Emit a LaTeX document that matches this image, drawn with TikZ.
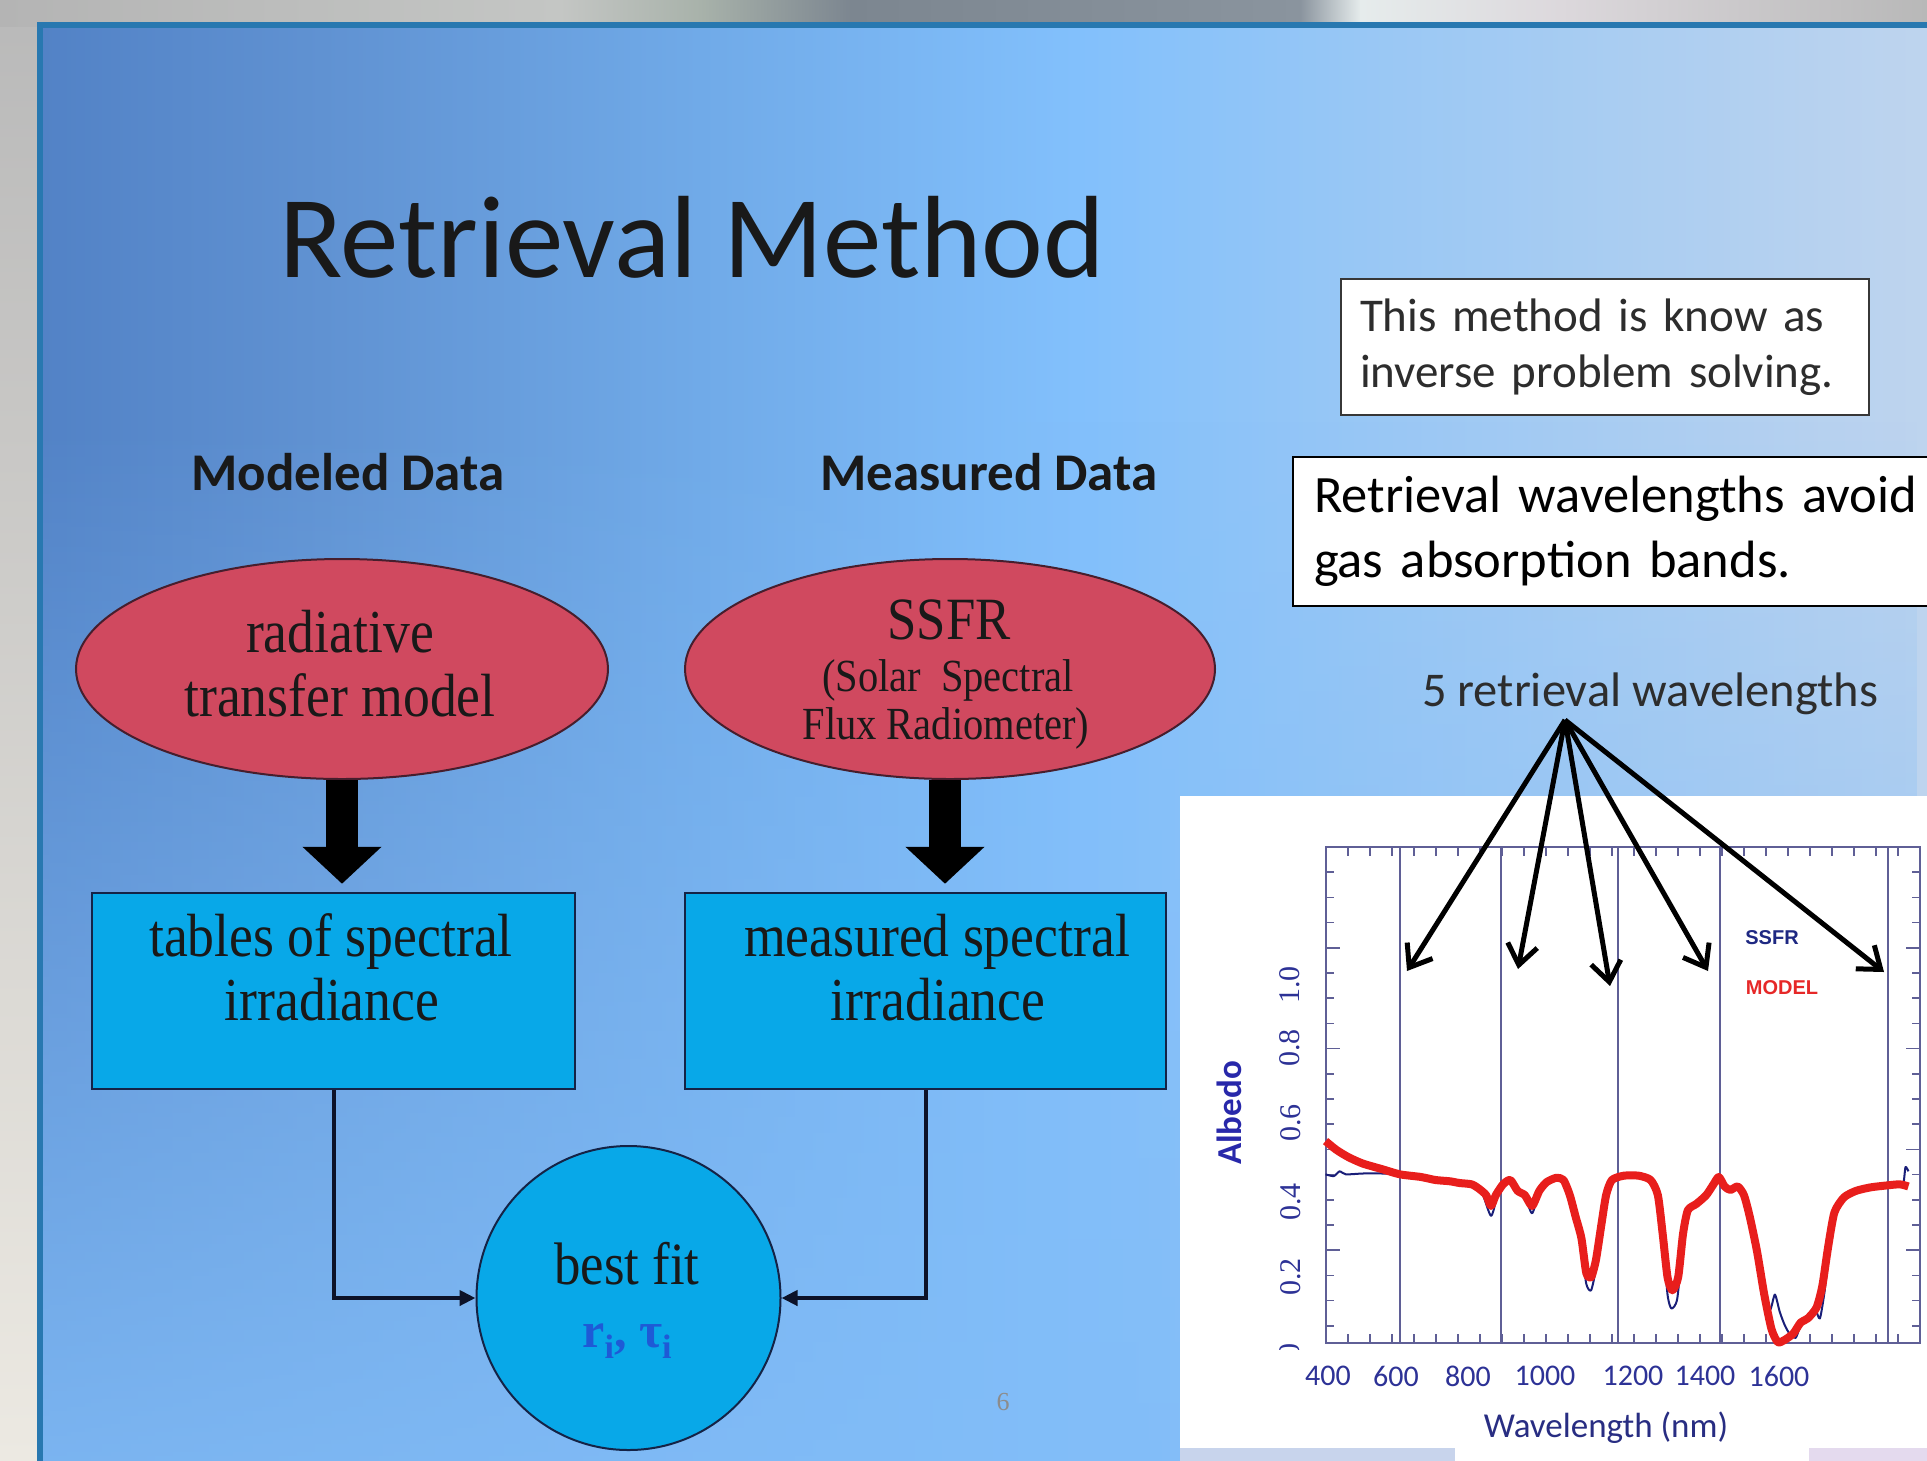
\documentclass[tikz,border=0pt]{standalone}
\usepackage{fontspec}
\setmainfont{Carlito}
\newfontfamily\calt[WordSpace=0.7]{Carlito}
\newfontfamily\condserif[FakeStretch=0.88]{Liberation Serif}
\newfontfamily\tnr{Liberation Serif}
\newfontfamily\arialf{Liberation Sans}
\usetikzlibrary{arrows.meta,shapes.geometric,fadings}
\definecolor{ellred}{RGB}{208,73,95}
\definecolor{ellline}{RGB}{70,30,45}
\definecolor{cyanfill}{RGB}{8,168,232}
\definecolor{navyline}{RGB}{20,35,70}
\definecolor{connline}{RGB}{12,18,40}
\definecolor{framecol}{RGB}{40,120,176}
\definecolor{bg0}{RGB}{82,130,198}
\definecolor{bg1}{RGB}{96,146,210}
\definecolor{bg2}{RGB}{112,170,232}
\definecolor{bg3}{RGB}{130,192,252}
\definecolor{bg4}{RGB}{155,200,244}
\definecolor{bg5}{RGB}{190,212,238}
\definecolor{bglow}{RGB}{130,189,248}
\definecolor{axiscol}{RGB}{95,95,150}
\definecolor{labblue}{RGB}{45,50,150}
\definecolor{curveblue}{RGB}{25,30,120}
\definecolor{curvered}{RGB}{232,30,28}
\definecolor{fitblue}{RGB}{30,90,214}
\definecolor{txtgray}{RGB}{45,45,45}
\definecolor{titlecol}{RGB}{25,25,25}
\definecolor{lstrip1}{RGB}{185,185,185}
\definecolor{lstrip2}{RGB}{236,233,226}
\definecolor{ts1}{RGB}{180,180,180}
\definecolor{ts2}{RGB}{196,198,196}
\definecolor{ts3}{RGB}{168,178,170}
\definecolor{ts4}{RGB}{124,134,144}
\definecolor{ts5}{RGB}{138,148,158}
\definecolor{ts6}{RGB}{230,236,236}
\definecolor{ts7}{RGB}{220,216,220}
\definecolor{ts8}{RGB}{184,184,184}
\definecolor{botleft}{RGB}{200,212,236}
\definecolor{botright}{RGB}{228,218,238}
\definecolor{noteAline}{RGB}{55,55,55}
\definecolor{albcol}{RGB}{40,40,170}
\definecolor{wlcol}{RGB}{40,45,130}
\definecolor{legScol}{RGB}{30,40,130}
\definecolor{legMcol}{RGB}{230,40,40}
\pgfdeclarehorizontalshading{slidebg}{100bp}{color(0bp)=(bg0); color(25bp)=(bg0); color(32.5bp)=(bg1); color(42.5bp)=(bg2); color(52.5bp)=(bg3); color(61bp)=(bg4); color(75bp)=(bg5); color(100bp)=(bg5)}
\begin{document}
\begin{tikzpicture}[x=1pt,y=-1pt,
  ellnode/.style={ellipse, draw=ellline, line width=2pt, fill=ellred, minimum width=532pt, minimum height=220pt, inner sep=0pt},
  boxnode/.style={rectangle, draw=navyline, line width=2.5pt, fill=cyanfill, minimum width=483pt, minimum height=196pt, inner sep=0pt},
  sline/.style={anchor=base, inner sep=0pt, text=black!90, font=\condserif\fontsize{61}{61}\selectfont},
  smallsline/.style={anchor=base, inner sep=0pt, text=black!90, font=\condserif\fontsize{46}{46}\selectfont},
  bigarrow/.style={line width=32pt, black, -{Triangle[length=37pt,width=77pt]}, shorten >=8pt},
  conn/.style={line width=4pt, draw=connline, -{Triangle[length=16pt,width=15pt]}},
  wlarrow/.style={line width=5pt, black, -{Straight Barb[length=20pt,width=30pt]}},
  ytick/.style={rotate=90, inner sep=0pt, text=labblue, font=\tnr\fontsize{30}{30}\selectfont},
  xtick/.style={inner sep=0pt, text=labblue, font=\fontsize{30}{30}\selectfont},
  axl/.style={axiscol, line width=1.6pt}
]
\useasboundingbox (0,0) rectangle (1927,1460);
\clip (0,0) rectangle (1927,1460);
% outside background
\shade[top color=lstrip1, bottom color=lstrip2] (0,0) rectangle (40,1460);
\shade[left color=ts1, right color=ts2] (0,0) rectangle (561,26);
\shade[left color=ts2, right color=ts3] (560,0) rectangle (701,26);
\shade[left color=ts3, right color=ts4] (700,0) rectangle (851,26);
\shade[left color=ts4, right color=ts5] (850,0) rectangle (1301,26);
\shade[left color=ts5, right color=ts6] (1300,0) rectangle (1361,26);
\shade[left color=ts6, right color=ts7] (1360,0) rectangle (1561,26);
\shade[left color=ts7, right color=ts8] (1560,0) rectangle (1927,26);
% slide background
\shade[shading=slidebg] (40,25) rectangle (1927,1460);
\fill[bglow, path fading=north, fill opacity=0.85] (40,420) rectangle (1927,1460);
\draw[framecol, line width=6pt] (40,1470) -- (40,25) -- (1935,25);

% title and headings
\node[anchor=base west, inner sep=0pt, text=titlecol, font=\fontsize{117}{117}\selectfont] (title) at (279,277) {Retrieval Method};
\node[anchor=base, inner sep=0pt, text=titlecol, font=\bfseries\fontsize{53}{53}\selectfont] (hmod) at (348,490) {Modeled Data};
\node[anchor=base, inner sep=0pt, text=titlecol, font=\bfseries\fontsize{53}{53}\selectfont] (hmeas) at (989,490) {Measured Data};

% ellipses
\node[ellnode] (e1) at (342,669) {};
\node[ellnode, minimum width=530pt] (e2) at (950,669) {};
\node[sline] (e1a) at (340,652) {radiative};
\node[sline] (e1b) at (340,716) {transfer model};
\node[sline, font=\condserif\fontsize{60}{60}\selectfont] (e2a) at (949,639) {SSFR};
\node[smallsline] (e2b) at (948,691) {(Solar\ \ Spectral};
\node[smallsline] (e2c) at (946,739) {Flux Radiometer)};

% boxes
\node[boxnode] (b1) at (333.5,991) {};
\node[boxnode, minimum width=481pt] (b2) at (925.5,991) {};
\node[sline] (b1a) at (331,956) {tables of spectral};
\node[sline] (b1b) at (332,1020) {irradiance};
\node[sline] (b2a) at (937,956) {measured spectral};
\node[sline] (b2b) at (938,1020) {irradiance};

% thick arrows
\draw[bigarrow] (e1.south) -- (e1.south |- b1.north);
\draw[bigarrow] ([xshift=-5pt]e2.south) -- ([xshift=-5pt]e2.south |- b2.north);

% best fit circle
\node[circle, draw=navyline, line width=2pt, fill=cyanfill, minimum size=304pt, inner sep=0pt] (fit) at (628.5,1298) {};
\node[sline, font=\condserif\fontsize{60}{60}\selectfont] (fita) at (627,1284) {best fit};
\node[anchor=base, inner sep=0pt, text=fitblue, font=\tnr\bfseries\fontsize{50}{50}\selectfont] (fitb) at (627,1347) {r\raisebox{-0.22em}{\fontsize{34}{34}\selectfont i}, τ\raisebox{-0.22em}{\fontsize{34}{34}\selectfont i}};
\draw[conn] (b1.south) |- (fit.west);
\draw[conn] (b2.south) |- (fit.east);

\node[inner sep=0pt, text=black!45, font=\tnr\fontsize{26}{26}\selectfont] (pg) at (1003,1402) {6};

% note boxes
\node[draw=noteAline, line width=2pt, fill=white, anchor=north west, minimum width=528pt, minimum height=136pt, inner xsep=19pt, inner ysep=0pt, text width=490pt, align=left, text=txtgray, font=\calt\fontsize{47}{56}\selectfont] (noteA) at (1340,278) {This method is know as\\inverse problem solving.};
\node[draw=black, line width=2pt, fill=white, anchor=north west, minimum width=682pt, minimum height=149pt, inner xsep=21pt, inner ysep=0pt, text width=640pt, align=left, text=black, font=\fontsize{52.5}{65}\selectfont] (noteB) at (1292,456) {Retrieval wavelengths avoid\\gas absorption bands.};

% chart background
\fill[white] (1180,796) rectangle (1930,1448);
\fill[white] (1455,1440) rectangle (1809,1465);
\fill[botleft] (1180,1448) rectangle (1455,1465);
\fill[botright] (1809,1448) rectangle (1930,1465);

% axes
\draw[axiscol, line width=2pt] (1326,847) rectangle (1920,1343);
\foreach \xv in {1400,1501,1618,1720,1888} {\draw[axiscol, line width=1.8pt] (\xv,847) -- (\xv,1343);}
\foreach \i in {1,...,26} {
  \draw[axl] (1326+22*\i,847) -- ++(0,9);
  \draw[axl] (1326+22*\i,1343) -- ++(0,-9);
}
\foreach \k in {1,...,19} {
  \draw[axl] (1326,847+25.2*\k) -- ++(8,0);
  \draw[axl] (1920,847+25.2*\k) -- ++(-8,0);
}
\foreach \k in {4,8,12,16} {
  \draw[axl] (1326,847+25.2*\k) -- ++(14,0);
  \draw[axl] (1920,847+25.2*\k) -- ++(-14,0);
}

% curves
\begin{scope}[shift={(1169.3,780)}, xscale=0.4837, yscale=0.4324]
\draw[curveblue, line width=2pt, line join=round] plot[smooth, tension=0.4] coordinates {
(323,912) (340,916) (352,905) (365,912) (400,910) (440,910) (477,912) (520,918) (550,927) (580,928) (600,932) (625,936) (645,950) (665,1008) (678,962) (690,935) (705,925) (720,950) (735,962) (750,1002) (765,952) (780,930) (800,920) (815,925) (828,965) (840,1020) (852,1080) (862,1165) (872,1180) (882,1130) (893,1035) (903,962) (915,925) (940,915) (970,915) (995,925) (1010,960) (1020,1060) (1030,1190) (1038,1222) (1050,1200) (1062,1070) (1072,1000) (1090,985) (1110,965) (1125,938) (1136,916) (1148,940) (1160,948) (1175,940) (1188,960) (1200,1010) (1215,1090) (1230,1180) (1242,1225) (1252,1190) (1262,1230) (1272,1260) (1282,1280) (1295,1290) (1305,1262) (1320,1250) (1335,1225) (1345,1245) (1355,1180) (1365,1080) (1378,998) (1395,965) (1420,950) (1450,942) (1480,938) (1510,935) (1518,930) (1522,895) (1528,905)};
\draw[curvered, line width=8pt, line join=round] plot[smooth, tension=0.4] coordinates {
(323,835) (345,855) (370,872) (400,887) (440,900) (477,912) (520,918) (550,925) (580,928) (600,932) (625,935) (640,945) (655,960) (665,985) (675,960) (690,935) (705,925) (720,950) (735,960) (750,985) (765,950) (780,930) (800,920) (815,925) (828,960) (840,1010) (852,1060) (862,1140) (872,1150) (882,1110) (893,1030) (903,960) (915,925) (940,915) (970,915) (995,925) (1010,960) (1020,1050) (1030,1150) (1040,1180) (1052,1150) (1062,1050) (1072,995) (1090,980) (1110,960) (1125,935) (1136,918) (1148,940) (1160,948) (1175,940) (1188,960) (1200,1010) (1215,1090) (1230,1190) (1245,1270) (1258,1300) (1272,1295) (1290,1280) (1305,1255) (1320,1245) (1338,1220) (1350,1170) (1362,1080) (1375,1000) (1395,965) (1420,950) (1450,942) (1480,938) (1510,935) (1528,940)};
\end{scope}

% axis labels
\node[ytick] (y10) at (1290,985) {1.0};
\node[ytick] (y08) at (1290,1048) {0.8};
\node[ytick] (y06) at (1291,1123) {0.6};
\node[ytick] (y04) at (1291,1202) {0.4};
\node[ytick] (y02) at (1291,1277) {0.2};
\begin{scope}
\clip (1270,1330) rectangle (1310,1349);
\node[ytick] (y00) at (1290,1362) {0.0};
\end{scope}
\node[rotate=90, inner sep=0pt, text=albcol, font=\bfseries\fontsize{35}{35}\selectfont] (alb) at (1229,1113) {Albedo};
\node[xtick] (x400) at (1328,1376) {400};
\node[xtick] (x600) at (1396,1376) {600};
\node[xtick] (x800) at (1468,1376) {800};
\node[xtick] (x1000) at (1545,1376) {1000};
\node[xtick] (x1200) at (1633,1376) {1200};
\node[xtick] (x1400) at (1705,1376) {1400};
\node[xtick] (x1600) at (1779,1376) {1600};
\node[inner sep=0pt, text=wlcol, font=\fontsize{35}{35}\selectfont] (wlab) at (1606,1428) {Wavelength (nm)};
\node[inner sep=0pt, text=legScol, font=\arialf\bfseries\fontsize{20}{20}\selectfont] (legS) at (1772,938) {SSFR};
\node[inner sep=0pt, text=legMcol, font=\arialf\bfseries\fontsize{20}{20}\selectfont] (legM) at (1782,988) {MODEL};

% retrieval wavelength arrows
\node[anchor=base, inner sep=0pt, text=txtgray, font=\fontsize{48.5}{48.5}\selectfont] (wl) at (1650,706) {5 retrieval wavelengths};
\coordinate (src) at (1565,720);
\coordinate (t1) at (1407,971);
\coordinate (t2) at (1518,969);
\coordinate (t3) at (1610,986);
\coordinate (t4) at (1708,971);
\coordinate (t5) at (1884,972);
\foreach \t in {t1,t2,t3,t4,t5} {\draw[wlarrow] (src) -- (\t);}
\end{tikzpicture}
\end{document}
